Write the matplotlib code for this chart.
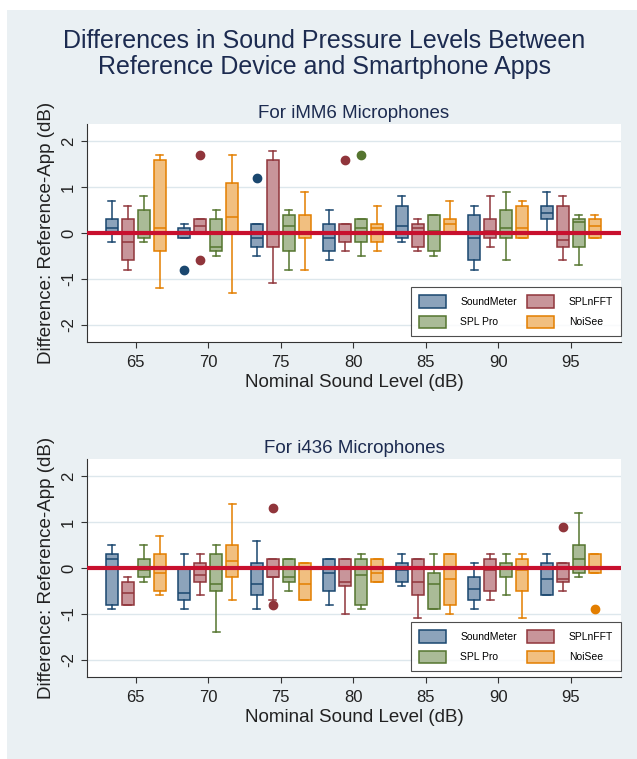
import matplotlib.pyplot as plt
from matplotlib.patches import Patch, Rectangle

plt.rcParams['font.family'] = ['Liberation Sans', 'DejaVu Sans']

levels = [65, 70, 75, 80, 85, 90, 95]
apps = ['SoundMeter', 'SPLnFFT', 'SPL Pro', 'NoiSee']

# (whisker low, q1, median, q3, whisker high) per nominal level
imm6_soundmeter = [(-0.2, 0.0, 0.1, 0.3, 0.7), (-0.1, -0.1, 0.0, 0.1, 0.2), (-0.5, -0.3, -0.1, 0.2, 0.2),
                   (-0.6, -0.4, -0.1, 0.2, 0.5), (-0.2, -0.1, 0.15, 0.6, 0.8), (-0.8, -0.6, -0.1, 0.4, 0.6),
                   (0.0, 0.3, 0.44, 0.6, 0.9)]
imm6_splnfft = [(-0.8, -0.6, -0.2, 0.3, 0.6), (0.0, 0.0, 0.15, 0.3, 0.3), (-1.1, -0.3, 0.0, 1.6, 1.8),
                (-0.4, -0.2, 0.0, 0.2, 0.2), (-0.4, -0.3, 0.1, 0.2, 0.3), (-0.3, -0.1, 0.05, 0.3, 0.8),
                (-0.6, -0.3, -0.15, 0.6, 0.8)]
imm6_splpro = [(-0.2, -0.1, 0.0, 0.5, 0.8), (-0.5, -0.4, -0.3, 0.3, 0.5), (-0.8, -0.4, 0.15, 0.4, 0.5),
               (-0.5, -0.2, 0.1, 0.3, 0.3), (-0.5, -0.4, 0.05, 0.4, 0.4), (-0.6, -0.1, 0.1, 0.5, 0.9),
               (-0.7, -0.3, 0.25, 0.3, 0.4)]
imm6_noisee = [(-1.2, -0.4, 0.1, 1.6, 1.7), (-1.3, 0.0, 0.35, 1.1, 1.7), (-0.8, -0.1, 0.03, 0.4, 0.9),
               (-0.4, -0.2, 0.1, 0.2, 0.6), (0.0, 0.0, 0.2, 0.3, 0.7), (-0.1, -0.1, 0.1, 0.6, 0.7),
               (-0.1, -0.1, 0.15, 0.3, 0.4)]

i436_soundmeter = [(-0.9, -0.8, 0.2, 0.3, 0.5), (-0.9, -0.7, -0.55, 0.0, 0.3), (-0.9, -0.6, -0.35, 0.1, 0.6),
                   (-0.8, -0.5, -0.1, 0.2, 0.2), (-0.4, -0.3, -0.05, 0.1, 0.3), (-0.9, -0.7, -0.45, -0.2, 0.1),
                   (-0.6, -0.6, -0.25, 0.1, 0.3)]
i436_splnfft = [(-0.8, -0.8, -0.55, -0.3, -0.2), (-0.6, -0.3, -0.15, 0.1, 0.3), (-0.7, -0.2, -0.2, 0.2, 0.2),
                (-1.0, -0.4, -0.3, 0.2, 0.2), (-1.1, -0.6, -0.3, 0.2, 0.2), (-0.7, -0.5, -0.05, 0.2, 0.3),
                (-0.5, -0.3, -0.25, 0.1, 0.1)]
i436_splpro = [(-0.3, -0.2, -0.05, 0.2, 0.5), (-1.4, -0.5, -0.35, 0.3, 0.5), (-0.5, -0.3, -0.2, 0.2, 0.2),
               (-0.9, -0.8, -0.15, 0.2, 0.3), (-0.9, -0.9, -0.35, -0.1, 0.3), (-0.6, -0.2, 0.0, 0.1, 0.3),
               (-0.2, -0.1, 0.2, 0.5, 1.2)]
i436_noisee = [(-0.6, -0.5, -0.1, 0.3, 0.7), (-0.7, -0.2, 0.15, 0.5, 1.4), (-0.7, -0.7, -0.35, 0.1, 0.1),
               (-0.3, -0.3, -0.1, 0.2, 0.2), (-1.0, -0.8, -0.25, 0.3, 0.3), (-1.1, -0.5, -0.05, 0.2, 0.3),
               (-0.1, -0.1, 0.0, 0.3, 0.3)]

# outliers: {level: [values]}
imm6_outliers = {'SoundMeter': {70: [-0.8], 75: [1.2]},
                 'SPLnFFT': {70: [1.7, -0.6], 80: [1.6]},
                 'SPL Pro': {80: [1.7]},
                 'NoiSee': {}}
i436_outliers = {'SoundMeter': {},
                 'SPLnFFT': {75: [1.3, -0.8], 95: [0.9]},
                 'SPL Pro': {},
                 'NoiSee': {95: [-0.9]}}

edge_colors = ['#1a476f', '#90353b', '#55752f', '#e37e00']
fill_colors = ['#8ca3bb', '#c8959a', '#aabb97', '#f1bf80']
offsets = [-1.65, -0.55, 0.55, 1.65]
navy = '#1c2b50'
bg = '#eaf0f3'

fig = plt.figure(figsize=(6.37, 7.59), dpi=100)
fig.patch.set_facecolor('white')
fig.patches.append(Rectangle((7 / 637, 0), 1, 1 - 10 / 759, transform=fig.transFigure,
                             facecolor=bg, edgecolor='none', zorder=-10))

fig.text(324 / 637, 1 - 54 / 759, 'Differences in Sound Pressure Levels Between\nReference Device and Smartphone Apps',
         ha='center', va='center', fontsize=18, color=navy, linespacing=1.1)


def draw_panel(ax, series, outliers, title):
    ax.set_facecolor('white')
    for i, (name, data) in enumerate(zip(apps, series)):
        stats = []
        for lvl, (lo, q1, med, q3, hi) in zip(levels, data):
            stats.append({'whislo': lo, 'q1': q1, 'med': med, 'q3': q3, 'whishi': hi,
                          'fliers': outliers[name].get(lvl, [])})
        pos = [lvl + offsets[i] for lvl in levels]
        ax.bxp(stats, positions=pos, widths=0.83, capwidths=0.48, patch_artist=True,
               manage_ticks=False,
               boxprops=dict(facecolor=fill_colors[i], edgecolor=edge_colors[i], linewidth=1.1),
               medianprops=dict(color=edge_colors[i], linewidth=1.1),
               whiskerprops=dict(color=edge_colors[i], linewidth=1.1),
               capprops=dict(color=edge_colors[i], linewidth=1.1),
               flierprops=dict(marker='o', markersize=6, markerfacecolor=edge_colors[i],
                               markeredgecolor=edge_colors[i]))
    ax.axhline(0, color='#c8102e', linewidth=3.0, zorder=5)
    ax.set_xlim(61.64, 98.47)
    ax.set_ylim(-2.38, 2.38)
    ax.set_xticks(levels)
    ax.set_yticks([-2, -1, 0, 1, 2])
    ax.set_yticklabels(['-2', '-1', '0', '1', '2'], rotation=90, va='center')
    ax.yaxis.grid(True, color='#dde7ec', linewidth=1.0)
    ax.set_axisbelow(True)
    for s in ['top', 'right']:
        ax.spines[s].set_visible(False)
    for s in ['left', 'bottom']:
        ax.spines[s].set_color('#333333')
        ax.spines[s].set_linewidth(0.8)
    ax.tick_params(axis='both', length=4, width=0.8, color='#333333', labelsize=12, labelcolor='#222222')
    ax.tick_params(axis='x', pad=5)
    ax.tick_params(axis='y', pad=4)
    ax.set_xlabel('Nominal Sound Level (dB)', fontsize=13.5, color='#222222', labelpad=3)
    ax.set_ylabel('Difference: Reference-App (dB)', fontsize=13.5, color='#222222', labelpad=4)
    ax.set_title(title, fontsize=13.5, color=navy, pad=4)
    handles = [Patch(facecolor=fill_colors[k], edgecolor=edge_colors[k], linewidth=1.1) for k in [0, 2, 1, 3]]
    labels = [apps[k] for k in [0, 2, 1, 3]]
    leg = ax.legend(handles, labels, ncol=2, loc='lower right', bbox_to_anchor=(1.0, 0.027),
                    fontsize=7.5, frameon=True, fancybox=False, edgecolor='#222222',
                    handlelength=2.6, handleheight=1.5, handletextpad=1.4, columnspacing=1.0,
                    labelspacing=0.75, borderpad=0.75, borderaxespad=0)
    leg.get_frame().set_linewidth(0.8)
    leg.set_zorder(10)


ax1 = fig.add_axes([87 / 637, 1 - 342 / 759, 534 / 637, 218 / 759])
ax2 = fig.add_axes([87 / 637, 1 - 677 / 759, 534 / 637, 218 / 759])

draw_panel(ax1, [imm6_soundmeter, imm6_splnfft, imm6_splpro, imm6_noisee], imm6_outliers, 'For iMM6 Microphones')
draw_panel(ax2, [i436_soundmeter, i436_splnfft, i436_splpro, i436_noisee], i436_outliers, 'For i436 Microphones')

fig.savefig('out.png', dpi=100, facecolor=fig.get_facecolor())
